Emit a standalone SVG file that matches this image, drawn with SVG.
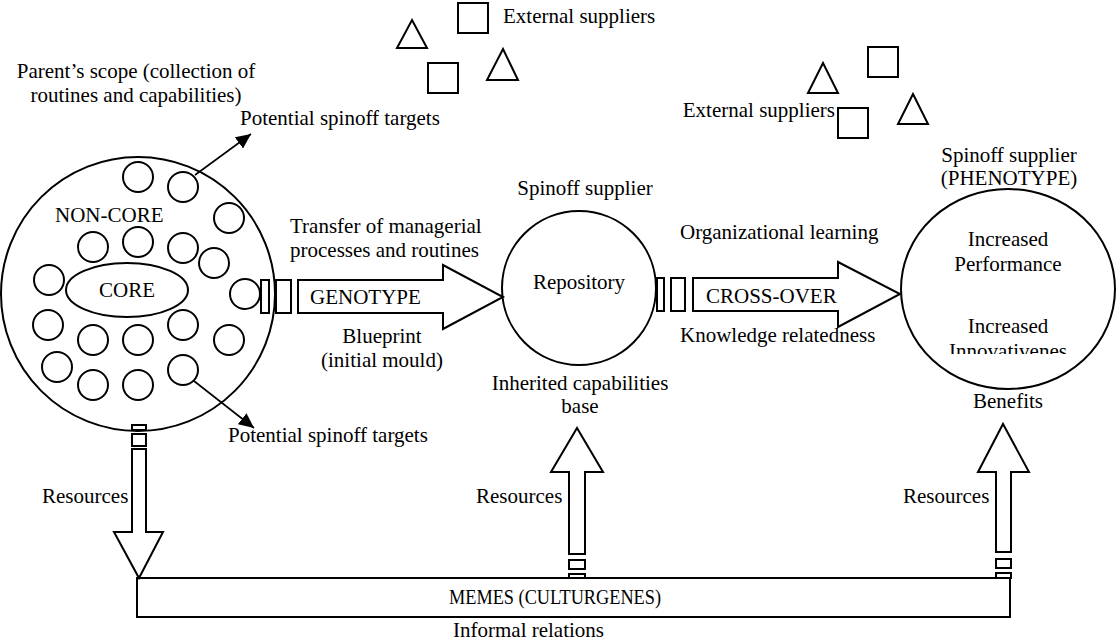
<svg xmlns="http://www.w3.org/2000/svg" width="1117" height="641" viewBox="0 0 1117 641" font-family="'Liberation Serif', 'DejaVu Serif', serif" font-size="21">
<style>
text{font-family:'Liberation Serif','DejaVu Serif',serif;font-size:21px;fill:#000}
.m{text-anchor:middle}
.s{fill:#fff;stroke:#000;stroke-width:2}
.l{stroke:#000;stroke-width:1.6;fill:none}
</style>
<defs>
<marker id="ah" markerUnits="userSpaceOnUse" markerWidth="16" markerHeight="14" refX="15" refY="7" orient="auto">
<path d="M0,0 L15,7 L0,14 z" fill="#000"/>
</marker>
<clipPath id="cl"><rect x="900" y="300" width="217" height="54"/></clipPath>
</defs>
<rect width="1117" height="641" fill="#fff"/>

<g id="suppliers-top">
<polygon class="s" points="412,20 427,48 397,48"/>
<rect class="s" x="458" y="3" width="30" height="30"/>
<rect class="s" x="428" y="63" width="30" height="30"/>
<polygon class="s" points="503,49 518,80 487,80"/>
<text x="503" y="23">External suppliers</text>
</g>

<g id="suppliers-right">
<polygon class="s" points="823,63 838,93 808,93"/>
<rect class="s" x="868" y="47" width="30" height="30"/>
<polygon class="s" points="913,94 928,124 898,124"/>
<rect class="s" x="838" y="108" width="30" height="30"/>
<text x="835" y="117" text-anchor="end">External suppliers</text>
</g>

<g id="parent">
<text class="m" x="136" y="78">Parent’s scope (collection of</text>
<text class="m" x="136" y="102">routines and capabilities)</text>
<circle class="s" cx="138" cy="294" r="137"/>
<circle class="s" cx="138" cy="177" r="15"/>
<circle class="s" cx="183" cy="187" r="15"/>
<circle class="s" cx="229" cy="218" r="15"/>
<circle class="s" cx="93" cy="247" r="15"/>
<circle class="s" cx="138" cy="242" r="15"/>
<circle class="s" cx="183" cy="248" r="15"/>
<circle class="s" cx="214" cy="263" r="15"/>
<circle class="s" cx="49" cy="280" r="15"/>
<circle class="s" cx="245" cy="294" r="15"/>
<circle class="s" cx="48" cy="325" r="15"/>
<circle class="s" cx="93" cy="340" r="15"/>
<circle class="s" cx="138" cy="340" r="15"/>
<circle class="s" cx="183" cy="325" r="15"/>
<circle class="s" cx="229" cy="340" r="15"/>
<circle class="s" cx="57" cy="367" r="15"/>
<circle class="s" cx="93" cy="385" r="15"/>
<circle class="s" cx="138" cy="385" r="15"/>
<circle class="s" cx="183" cy="370" r="15"/>
<ellipse class="s" cx="127" cy="290" rx="61" ry="27"/>
<text class="m" x="127" y="297">CORE</text>
<text x="55" y="222">NON-CORE</text>
<text x="240" y="125">Potential spinoff targets</text>
<text x="228" y="442">Potential spinoff targets</text>
</g>

<g id="spinoff">
<text class="m" x="585" y="195">Spinoff supplier</text>
<circle class="s" cx="579" cy="288" r="77"/>
<text class="m" x="579" y="289">Repository</text>
<text class="m" x="580" y="390">Inherited capabilities</text>
<text class="m" x="580" y="413">base</text>
</g>

<g id="phenotype">
<text class="m" x="1009" y="162">Spinoff supplier</text>
<text class="m" x="1009" y="185">(PHENOTYPE)</text>
<ellipse class="s" cx="1008" cy="289" rx="107" ry="100"/>
<text class="m" x="1008" y="246">Increased</text>
<text class="m" x="1008" y="271">Performance</text>
<text class="m" x="1008" y="333">Increased</text>
<text class="m" x="1008" y="358" clip-path="url(#cl)">Innovativenes</text>
<text class="m" x="1008" y="408">Benefits</text>
</g>

<g id="memes">
<rect class="s" x="137" y="578" width="873" height="39"/>
<text x="449" y="604" textLength="212" lengthAdjust="spacingAndGlyphs">MEMES (CULTURGENES)</text>
<text x="453" y="637">Informal relations</text>
</g>

<g id="connectors">
<line class="l" x1="195" y1="175" x2="251" y2="134" marker-end="url(#ah)"/>
<line class="l" x1="194" y1="381" x2="254" y2="428" marker-end="url(#ah)"/>

<rect class="s" x="261" y="280" width="8" height="33"/>
<rect class="s" x="276" y="280" width="15" height="33"/>
<polygon class="s" points="298,280 443,280 443,265 503,297 443,329 443,313 298,313"/>
<text x="310" y="304">GENOTYPE</text>
<text x="290" y="233">Transfer of managerial</text>
<text x="290" y="257">processes and routines</text>
<text class="m" x="382" y="343">Blueprint</text>
<text class="m" x="382" y="367">(initial mould)</text>

<rect class="s" x="657" y="278" width="7" height="33"/>
<rect class="s" x="671" y="278" width="14" height="33"/>
<polygon class="s" points="693,278 838,278 838,262 900,294 838,327 838,311 693,311"/>
<text x="706" y="303">CROSS-OVER</text>
<text x="680" y="239">Organizational learning</text>
<text x="680" y="342">Knowledge relatedness</text>

<rect class="s" x="132" y="425" width="14" height="5"/>
<rect class="s" x="132" y="434" width="14" height="12"/>
<polygon class="s" points="132,449 146,449 146,532 163,532 139,578 114,532 132,532"/>
<text x="42" y="503">Resources</text>

<polygon class="s" points="569,554 569,472 551,472 577,428 603,472 585,472 585,554"/>
<rect class="s" x="569" y="560" width="16" height="9"/>
<rect class="s" x="569" y="574" width="16" height="4"/>
<text x="476" y="503">Resources</text>

<polygon class="s" points="996,552 996,472 978,472 1003,424 1029,472 1011,472 1011,552"/>
<rect class="s" x="996" y="559" width="15" height="9"/>
<rect class="s" x="996" y="573" width="15" height="5"/>
<text x="903" y="503">Resources</text>
</g>
</svg>
